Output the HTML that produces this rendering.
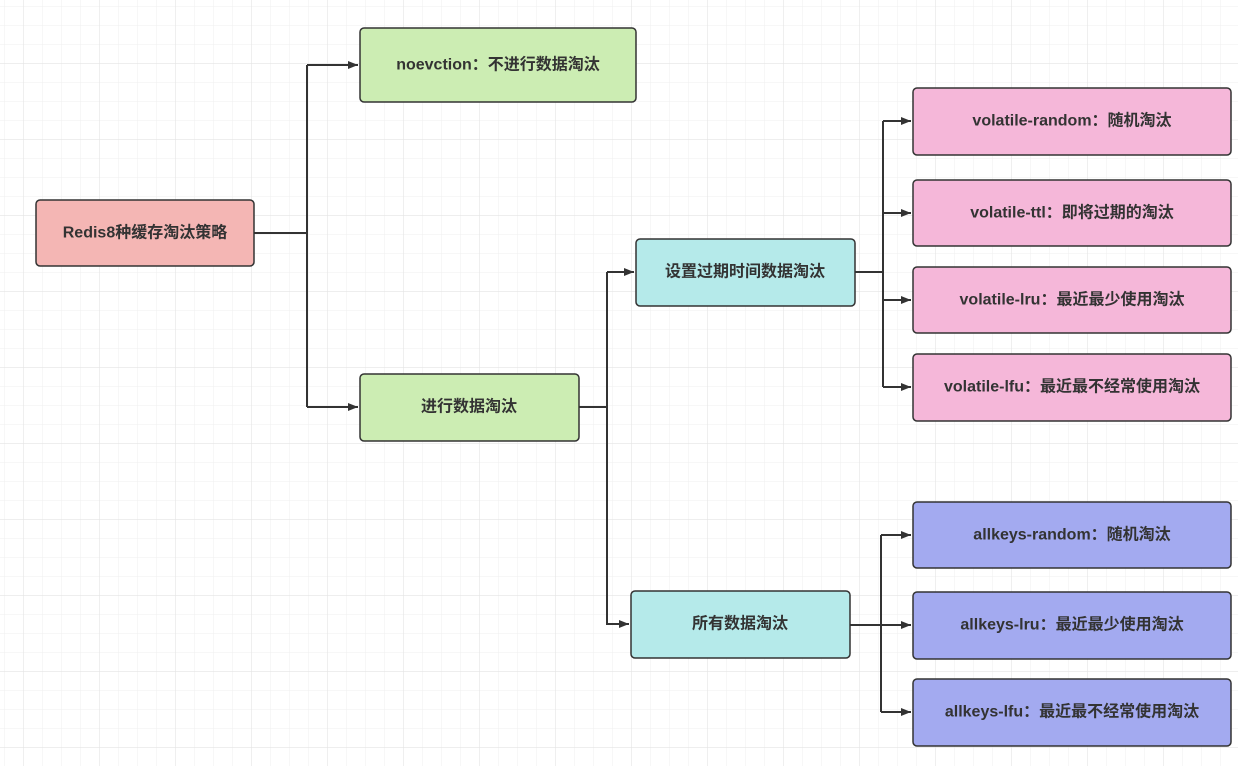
<!DOCTYPE html>
<html><head><meta charset="utf-8"><style>
html,body{margin:0;padding:0;background:#fff;}
svg{display:block;}
text{font-family:"Liberation Sans","Noto Sans CJK SC",sans-serif;font-weight:bold;font-size:16px;fill:#333;}
</style></head><body>
<svg width="1238" height="766" viewBox="0 0 1238 766" xmlns="http://www.w3.org/2000/svg">
<defs>
<pattern id="minor" width="19" height="19" patternUnits="userSpaceOnUse" x="4" y="6">
<path d="M0 0H19M0 0V19" stroke="#efefef" stroke-width="1" fill="none"/>
</pattern>
<pattern id="major" width="76" height="76" patternUnits="userSpaceOnUse" x="23" y="63">
<path d="M0 0H76M0 0V76" stroke="#e4e4e4" stroke-width="1.2" fill="none"/>
</pattern>
<marker id="a" markerWidth="10" markerHeight="8" refX="10" refY="4" orient="auto" markerUnits="userSpaceOnUse">
<path d="M0 0L10 4L0 8Z" fill="#333"/>
</marker>
</defs>
<rect width="1238" height="766" fill="url(#minor)"/>
<rect width="1238" height="766" fill="url(#major)"/>
<g stroke="#333" stroke-width="2" fill="none">
<path d="M254 233H307"/>
<path d="M307 65V407"/>
<path d="M307 65H358" marker-end="url(#a)"/>
<path d="M307 407H358" marker-end="url(#a)"/>
<path d="M579 407H607V272"/>
<path d="M607 272H634" marker-end="url(#a)"/>
<path d="M607 407V624H629" marker-end="url(#a)"/>
<path d="M855 272H883"/>
<path d="M883 121V387"/>
<path d="M883 121H911" marker-end="url(#a)"/>
<path d="M883 213H911" marker-end="url(#a)"/>
<path d="M883 300H911" marker-end="url(#a)"/>
<path d="M883 387H911" marker-end="url(#a)"/>
<path d="M850 625H911" marker-end="url(#a)"/>
<path d="M881 535V712"/>
<path d="M881 535H911" marker-end="url(#a)"/>
<path d="M881 712H911" marker-end="url(#a)"/>
</g>
<g stroke="#333" stroke-width="1.5">
<rect x="36" y="200" width="218" height="66" rx="4" fill="#f4b6b4"/>
<rect x="360" y="28" width="276" height="74" rx="4" fill="#ccedb3"/>
<rect x="360" y="374" width="219" height="67" rx="4" fill="#ccedb3"/>
<rect x="636" y="239" width="219" height="67" rx="4" fill="#b5eaea"/>
<rect x="631" y="591" width="219" height="67" rx="4" fill="#b5eaea"/>
<rect x="913" y="88" width="318" height="67" rx="4" fill="#f5b7d9"/>
<rect x="913" y="180" width="318" height="66" rx="4" fill="#f5b7d9"/>
<rect x="913" y="267" width="318" height="66" rx="4" fill="#f5b7d9"/>
<rect x="913" y="354" width="318" height="67" rx="4" fill="#f5b7d9"/>
<rect x="913" y="502" width="318" height="66" rx="4" fill="#a3aaf0"/>
<rect x="913" y="592" width="318" height="67" rx="4" fill="#a3aaf0"/>
<rect x="913" y="679" width="318" height="67" rx="4" fill="#a3aaf0"/>
</g>
<g text-anchor="middle" dominant-baseline="central">
<text x="145" y="233">Redis8种缓存淘汰策略</text>
<text x="498" y="65">noevction：不进行数据淘汰</text>
<text x="469" y="407">进行数据淘汰</text>
<text x="745" y="272">设置过期时间数据淘汰</text>
<text x="740" y="624">所有数据淘汰</text>
<text x="1072" y="121">volatile-random：随机淘汰</text>
<text x="1072" y="213">volatile-ttl：即将过期的淘汰</text>
<text x="1072" y="300">volatile-lru：最近最少使用淘汰</text>
<text x="1072" y="387">volatile-lfu：最近最不经常使用淘汰</text>
<text x="1072" y="535">allkeys-random：随机淘汰</text>
<text x="1072" y="625">allkeys-lru：最近最少使用淘汰</text>
<text x="1072" y="712">allkeys-lfu：最近最不经常使用淘汰</text>
</g>
</svg>
</body></html>
